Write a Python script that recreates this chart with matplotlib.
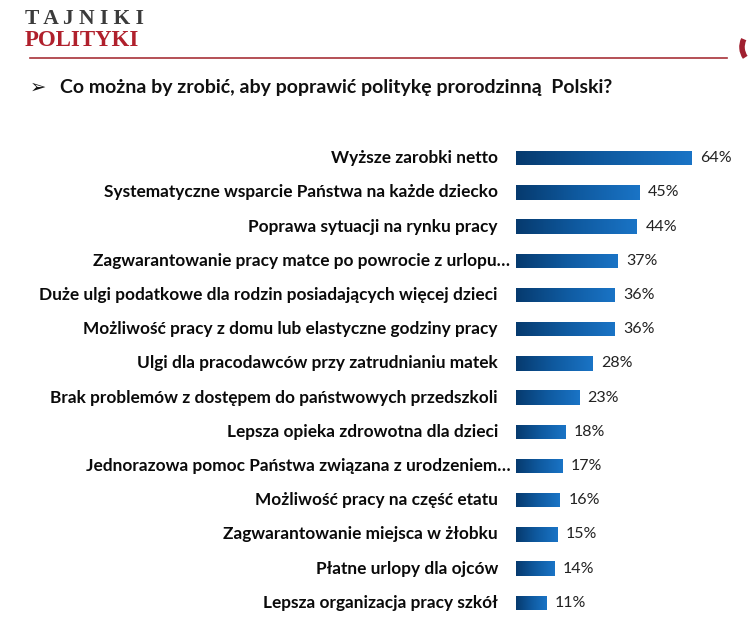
import matplotlib
matplotlib.use("Agg")
import matplotlib.pyplot as plt
import numpy as np
from matplotlib.colors import LinearSegmentedColormap
from matplotlib.patches import Arc

categories = [
    "Wyższe zarobki netto",
    "Systematyczne wsparcie Państwa na każde dziecko",
    "Poprawa sytuacji na rynku pracy",
    "Zagwarantowanie pracy matce po powrocie z urlopu…",
    "Duże ulgi podatkowe dla rodzin posiadających więcej dzieci",
    "Możliwość pracy z domu lub elastyczne godziny pracy",
    "Ulgi dla pracodawców przy zatrudnianiu matek",
    "Brak problemów z dostępem do państwowych przedszkoli",
    "Lepsza opieka zdrowotna dla dzieci",
    "Jednorazowa pomoc Państwa związana z urodzeniem…",
    "Możliwość pracy na część etatu",
    "Zagwarantowanie miejsca w żłobku",
    "Płatne urlopy dla ojców",
    "Lepsza organizacja pracy szkół",
]
values = [64, 45, 44, 37, 36, 36, 28, 23, 18, 17, 16, 15, 14, 11]
value_labels = [f"{v}%" for v in values]
title = "Co można by zrobić, aby poprawić politykę prorodzinną  Polski?"

FONT = ["Lato", "DejaVu Sans"]
plt.rcParams["font.family"] = FONT

W, H = 751, 627
fig = plt.figure(figsize=(W / 100, H / 100), dpi=100)
fig.patch.set_facecolor("white")

ax = fig.add_axes([516 / W, 1 - 620 / H, (745 - 516) / W, (620 - 141) / H])
ax.set_xlim(0, (745 - 516) / 2.75)
n = len(values)
y = np.arange(n)
ax.set_ylim(n - 0.5, -0.5)
bars = ax.barh(y, values, height=0.42, color="none", edgecolor="none")

cmap = LinearSegmentedColormap.from_list("g", ["#063a6e", "#0f5aa0", "#1a74c6"])
grad = np.linspace(0, 1, 256).reshape(1, -1)
for b in bars:
    x0, y0 = b.get_x(), b.get_y()
    w, h = b.get_width(), b.get_height()
    im = ax.imshow(grad, cmap=cmap, aspect="auto",
                   extent=(x0, x0 + w, y0 + h, y0), zorder=2, interpolation="bicubic")
    im.set_clip_path(b)

for i, (v, lab) in enumerate(zip(values, value_labels)):
    ax.annotate(lab, (v, i), xytext=(6, 0), textcoords="offset points",
                va="center", ha="left", fontsize=11.5, color="#222222")

for i, c in enumerate(categories):
    off = -4 if c.endswith("…") else -13
    ax.annotate(c, (0, i), xytext=(off, 0), textcoords="offset points",
                va="center", ha="right", fontsize=12.4, fontweight="bold",
                color="#0a0a0a", annotation_clip=False)

ax.axis("off")

# header
fig.text(25 / W, 1 - 19 / H, "T A J N I K I", fontsize=15.5, fontweight="bold",
         family=["Liberation Serif"], color="#3b3b3b", va="center", ha="left")
fig.text(25 / W, 1 - 41 / H, "POLITYKI", fontsize=16.5, fontweight="bold",
         family=["Liberation Serif"], color="#b0202c", va="center", ha="left")
fig.add_artist(plt.Line2D([30 / W, 727 / W], [1 - 58 / H, 1 - 58 / H],
                          color="#a83238", lw=1.2))
fig.add_artist(Arc((760 / W, 1 - 47 / H), 36 / W, 36 / H, theta1=150, theta2=220,
                   color="#a02030", lw=4))

fig.text(30 / W, 1 - 87 / H, "➢", fontsize=14, family=["DejaVu Sans"],
         color="#111111", va="center", ha="left")
fig.text(60 / W, 1 - 87 / H, title, fontsize=14, fontweight="bold",
         color="#111111", va="center", ha="left")

fig.savefig("out.png", dpi=100, facecolor="white")
